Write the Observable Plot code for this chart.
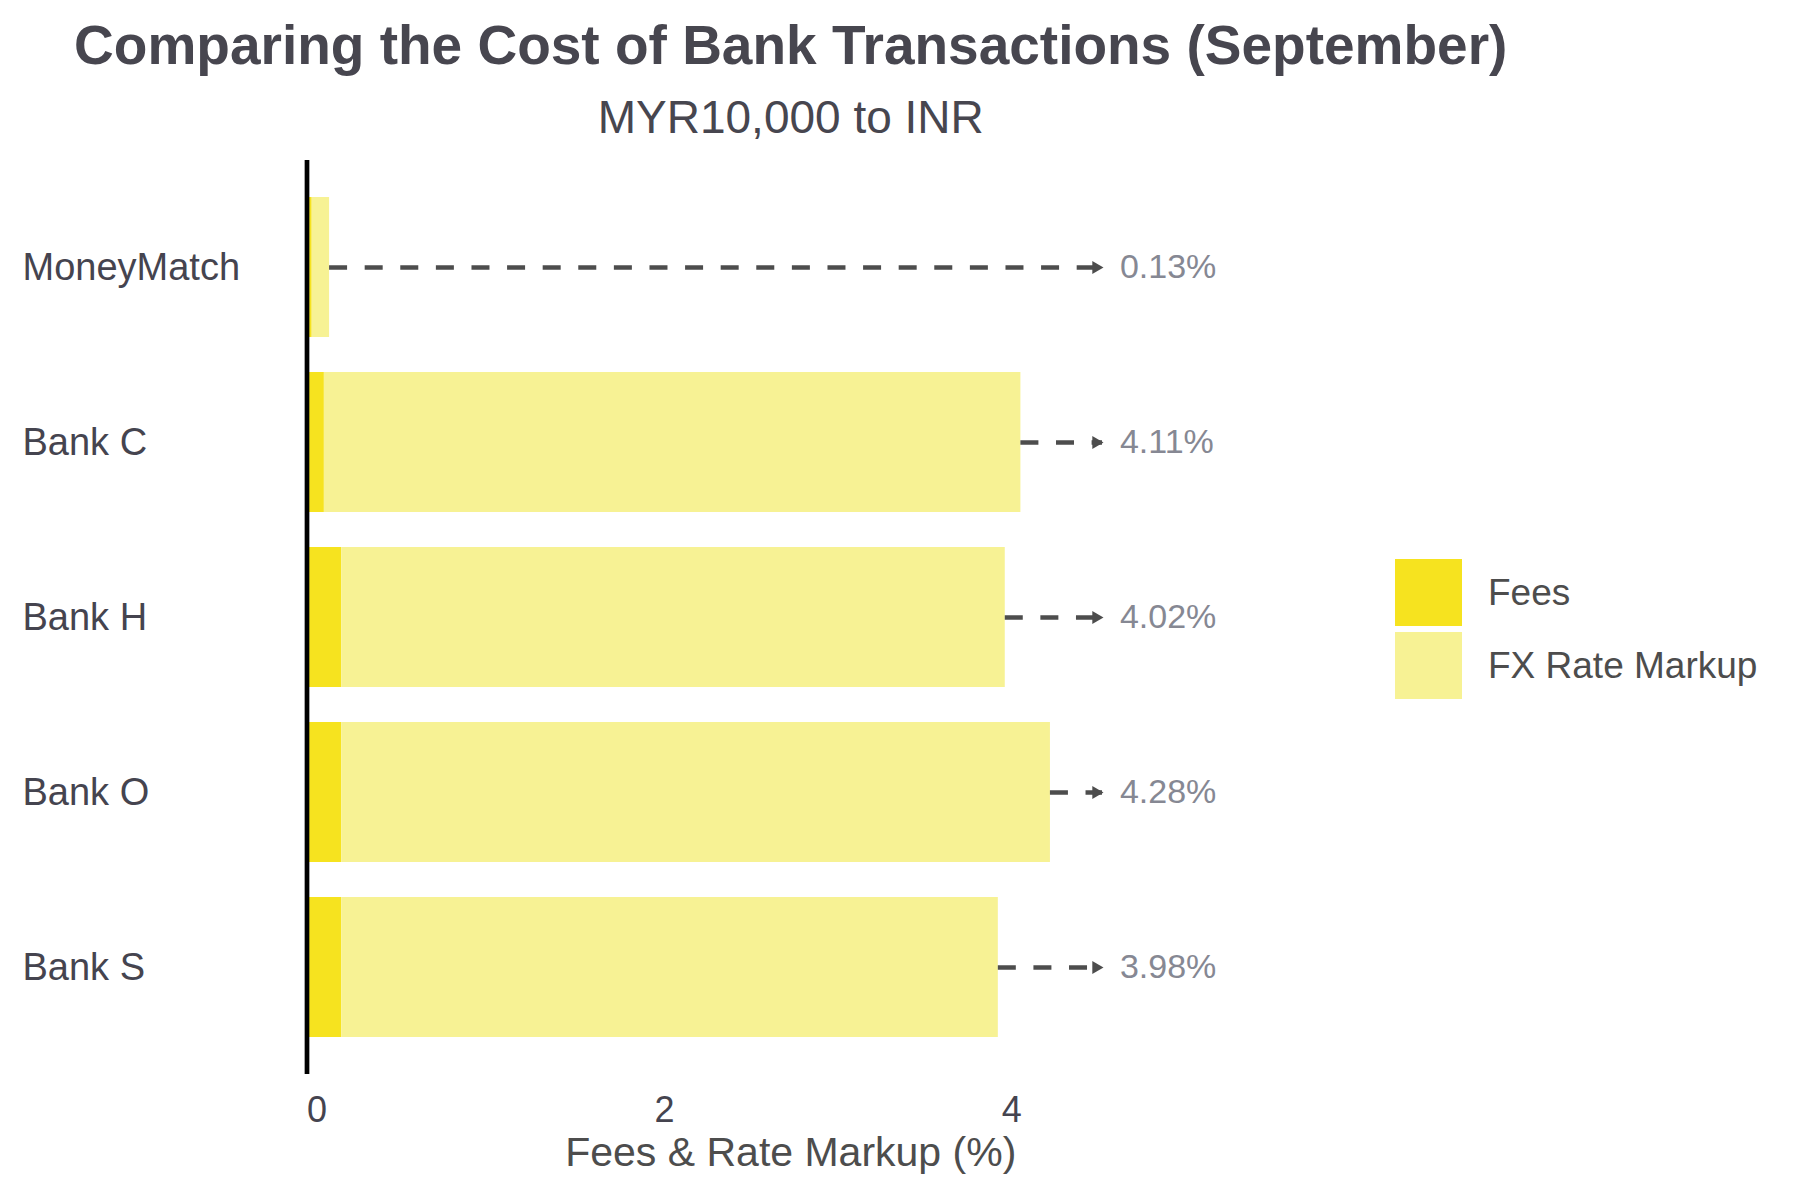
<!DOCTYPE html>
<html>
<head>
<meta charset="utf-8">
<script src="https://cdn.jsdelivr.net/npm/d3@7"></script>
<script src="https://cdn.jsdelivr.net/npm/@observablehq/plot@0.6"></script>
<style>
  html, body { margin: 0; padding: 0; background: #ffffff; }
  #wrap { position: relative; width: 1800px; height: 1200px; font-family: "Liberation Sans", Arial, Helvetica, sans-serif; }
  #chart { position: absolute; left: 0; top: 0; }
  #legend { position: absolute; left: 1395px; top: 559px; }
  .item { display: flex; align-items: center; height: 67px; margin-bottom: 6px; }
  .sw { width: 67px; height: 67px; }
  .lab { margin-left: 26px; font-size: 37px; color: #4d4d4d; white-space: nowrap; }
</style>
</head>
<body>
<div id="wrap">
  <div id="chart"></div>
  <div id="legend"></div>
</div>
<script>
// ---- data ----
const banks = ["MoneyMatch", "Bank C", "Bank H", "Bank O", "Bank S"];
const fees = [0.03, 0.10, 0.20, 0.20, 0.20];
const markups = [0.10, 4.01, 3.82, 4.08, 3.78];
const totals = [0.13, 4.11, 4.02, 4.28, 3.98];
const components = ["Fees", "FX Rate Markup"];
const componentColors = ["#f6e31f", "#f7f294"];
const xTicks = [0, 2, 4];
const arrowEnd = 4.58;   // where the dashed arrows end (x units)
const labelAt = 4.68;    // where total labels start (x units)
const titleText = "Comparing the Cost of Bank Transactions (September)";
const subtitleText = "MYR10,000 to INR";
const xLabel = "Fees & Rate Markup (%)";

// ---- tables ----
const rows = banks.flatMap((b, i) => [
  {bank: b, component: components[0], value: fees[i]},
  {bank: b, component: components[1], value: markups[i]}
]);
const totalRows = banks.map((b, i) => ({bank: b, total: totals[i]}));

const textColor = "#45444f";

const chart = Plot.plot({
  width: 1800,
  height: 1200,
  marginLeft: 306.5,
  marginRight: 526,
  marginTop: 160,
  marginBottom: 126,
  style: {fontFamily: "'Liberation Sans', Arial, Helvetica, sans-serif", color: textColor, background: "#ffffff"},
  x: {domain: [0, 5.57]},
  y: {domain: banks, padding: 0.2},
  color: {domain: components, range: componentColors},
  marks: [
    Plot.barX(rows, {x: "value", y: "bank", fill: "component"}),
    Plot.ruleX([0], {stroke: "#000000", strokeWidth: 4.7}),
    Plot.ruleY(totalRows, {y: "bank", x1: "total", x2: () => arrowEnd, stroke: "#4d4d4d", strokeWidth: 4.5, strokeDasharray: "18 17.6"}),
    Plot.dot(totalRows, {x: () => arrowEnd, y: "bank", symbol: "triangle", rotate: 90, r: 4.8, fill: "#4d4d4d", stroke: "none", dx: -6.5}),
    Plot.text(totalRows, {x: () => labelAt, y: "bank", text: d => d.total.toFixed(2) + "%", textAnchor: "start", fontSize: 34, fill: "#868893"}),
    Plot.axisY({tickSize: 0, tickPadding: 0, textAnchor: "start", dx: 22 - 306.5, fontSize: 38, label: null}),
    Plot.axisX({ticks: xTicks, tickFormat: d => String(d), tickSize: 0, tickPadding: 22, dx: 10, fontSize: 36, label: null}),
    Plot.text([xLabel], {frameAnchor: "bottom", dy: 91, fontSize: 41, fill: "#4d4d4d"}),
    Plot.text([titleText], {frameAnchor: "top", lineAnchor: "bottom", dy: 63.5 - 160, fontSize: 55, fontWeight: "bold", fill: "#47464f"}),
    Plot.text([subtitleText], {frameAnchor: "top", lineAnchor: "bottom", dy: 132 - 160, fontSize: 46, fill: "#47464f"})
  ]
});
document.getElementById("chart").appendChild(chart);

// ---- legend ----
const legend = document.getElementById("legend");
components.forEach((c, i) => {
  const item = document.createElement("div");
  item.className = "item";
  const sw = document.createElement("div");
  sw.className = "sw";
  sw.style.background = componentColors[i];
  const lab = document.createElement("div");
  lab.className = "lab";
  lab.textContent = c;
  item.appendChild(sw);
  item.appendChild(lab);
  legend.appendChild(item);
});
</script>
</body>
</html>
